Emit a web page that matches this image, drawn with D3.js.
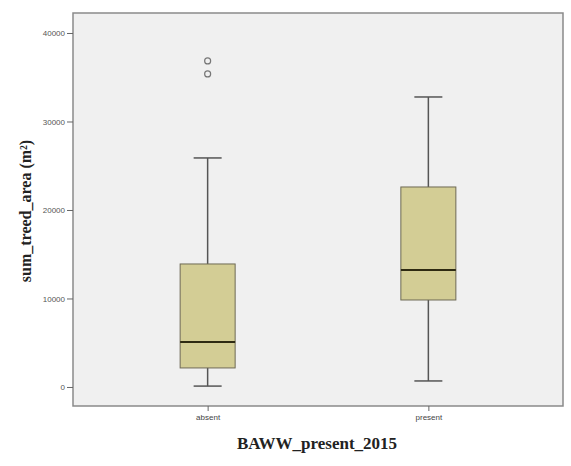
<!DOCTYPE html>
<html>
<head>
<meta charset="utf-8">
<script src="https://cdn.jsdelivr.net/npm/d3@7"></script>
<style>
  body { margin: 0; background: #fff; }
  svg { display: block; }
</style>
</head>
<body>
<div id="chart"></div>
<script>
(function() {
    var width = 571, height = 466;

    // data
    var groups = ["absent", "present"];
    var whiskLow = [100, 680];
    var q1 = [2150, 9830];
    var medians = [5090, 13220];
    var q3 = [13900, 22600];
    var whiskHigh = [25880, 32770];
    var outliers = [[36840, 35370], []];
    var yTicks = [0, 10000, 20000, 30000, 40000];

    var plot = {left: 73, right: 563, top: 13, bottom: 406};

    var svg = d3.select("#chart").append("svg")
                .attr("width", width)
                .attr("height", height);

    var x = d3.scalePoint()
              .domain(groups)
              .range([plot.left, plot.right])
              .padding(0.61);

    var y = d3.scaleLinear()
              .domain([-2150, 42260])
              .range([plot.bottom, plot.top]);

    // plot background
    svg.append("rect")
       .attr("x", plot.left)
       .attr("y", plot.top)
       .attr("width", plot.right - plot.left)
       .attr("height", plot.bottom - plot.top)
       .attr("fill", "#f0f0f0")
       .attr("stroke", "#8a8a8a")
       .attr("stroke-width", 1.5);

    // axes
    var yAxis = d3.axisLeft(y).tickValues(yTicks).tickSize(6).tickPadding(2)
                  .tickFormat(d3.format("d"));
    var gy = svg.append("g")
                .attr("transform", "translate(" + plot.left + ",0)")
                .call(yAxis);
    gy.select(".domain").remove();
    gy.selectAll(".tick line").attr("stroke", "#666");
    gy.selectAll(".tick text")
      .attr("fill", "#555")
      .style("font-family", "Arial, 'Liberation Sans', sans-serif")
      .style("font-size", "8px");

    var xAxis = d3.axisBottom(x).tickSize(5).tickPadding(3);
    var gx = svg.append("g")
                .attr("transform", "translate(0," + plot.bottom + ")")
                .call(xAxis);
    gx.select(".domain").remove();
    gx.selectAll(".tick line").attr("stroke", "#666");
    gx.selectAll(".tick text")
      .attr("fill", "#444")
      .style("font-family", "Arial, 'Liberation Sans', sans-serif")
      .style("font-size", "8px");

    // boxes
    var boxW = 55, capW = 28;
    var boxes = svg.selectAll(".box")
                   .data(groups)
                   .enter().append("g")
                   .attr("class", "box");

    boxes.append("line")
         .attr("x1", function(d) { return x(d); })
         .attr("x2", function(d) { return x(d); })
         .attr("y1", function(d, i) { return y(whiskLow[i]); })
         .attr("y2", function(d, i) { return y(whiskHigh[i]); })
         .attr("stroke", "#555")
         .attr("stroke-width", 1.5);

    [whiskLow, whiskHigh].forEach(function(arr) {
        boxes.append("line")
             .attr("x1", function(d) { return x(d) - capW/2; })
             .attr("x2", function(d) { return x(d) + capW/2; })
             .attr("y1", function(d, i) { return y(arr[i]); })
             .attr("y2", function(d, i) { return y(arr[i]); })
             .attr("stroke", "#555")
             .attr("stroke-width", 1.5);
    });

    boxes.append("rect")
         .attr("x", function(d) { return x(d) - boxW/2; })
         .attr("y", function(d, i) { return y(q3[i]); })
         .attr("width", boxW)
         .attr("height", function(d, i) { return y(q1[i]) - y(q3[i]); })
         .attr("fill", "#d3cd95")
         .attr("stroke", "#6e6a55")
         .attr("stroke-width", 1);

    boxes.append("line")
         .attr("x1", function(d) { return x(d) - boxW/2; })
         .attr("x2", function(d) { return x(d) + boxW/2; })
         .attr("y1", function(d, i) { return y(medians[i]); })
         .attr("y2", function(d, i) { return y(medians[i]); })
         .attr("stroke", "#2e2a12")
         .attr("stroke-width", 2);

    groups.forEach(function(g, i) {
        svg.selectAll(".out" + i)
           .data(outliers[i])
           .enter().append("circle")
           .attr("cx", x(g))
           .attr("cy", function(d) { return y(d); })
           .attr("r", 3)
           .attr("fill", "none")
           .attr("stroke", "#777")
           .attr("stroke-width", 1.2);
    });

    // axis titles
    svg.append("text")
       .attr("x", 317)
       .attr("y", 449)
       .attr("text-anchor", "middle")
       .style("font-family", "'Liberation Serif', 'Times New Roman', serif")
       .style("font-weight", "bold")
       .style("font-size", "17px")
       .attr("fill", "#222")
       .text("BAWW_present_2015");

    svg.append("text")
       .attr("transform", "translate(31,211) rotate(-90)")
       .attr("text-anchor", "middle")
       .style("font-family", "'Liberation Serif', 'Times New Roman', serif")
       .style("font-weight", "bold")
       .style("font-size", "16px")
       .attr("fill", "#222")
       .text("sum_treed_area (m²)");
})();
</script>
</body>
</html>
